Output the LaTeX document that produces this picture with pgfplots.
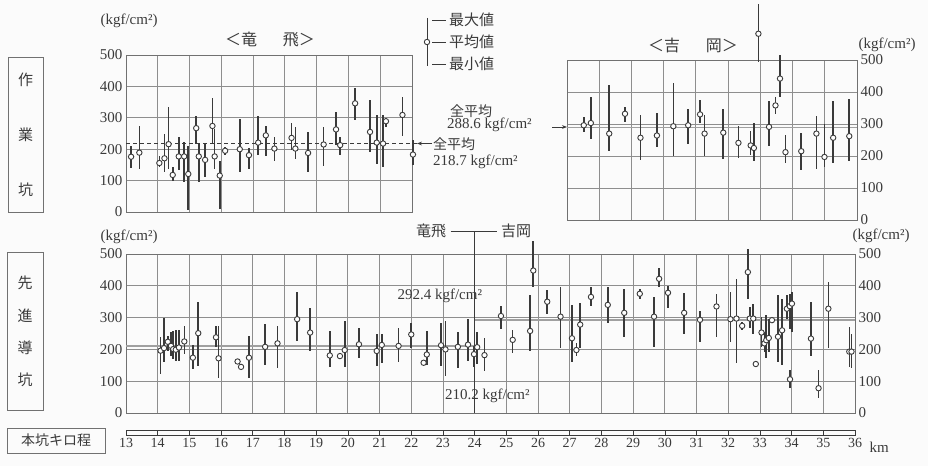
\documentclass[border=0pt]{standalone}
\usepackage{fontspec}
\setmainfont{Liberation Serif}
\newfontfamily\jp{Noto Sans CJK JP}
\usepackage{pgfplots}
\usepackage{pgfplotstable}
\pgfplotsset{compat=1.18}
\usetikzlibrary{arrows.meta}

\definecolor{ink}{HTML}{3A3A3A}
\definecolor{gridc}{HTML}{8E8E8E}
\definecolor{meanc}{HTML}{A0A0A0}

% km  mean  max  min   (kgf/cm2)
\pgfplotstableread{
km mean max min
13.16 176 210 139
13.42 189 274 137
14.05 156 178 142
14.21 171 247 126
14.34 216 335 137
14.47 118 142 100
14.66 177 240 135
14.83 177 223 97
14.96 121 210 5
15.21 267 305 216
15.29 177 216 95
15.49 166 216 111
15.72 274 363 216
15.79 177 263 137
15.95 116 163 10
16.12 195 208 181
16.58 200 297 128
16.87 181 205 137
17.16 221 305 181
17.40 244 274 177
17.67 202 239 162
18.21 236 282 197
18.33 202 271 170
18.73 188 255 126
19.22 215 271 147
19.61 263 319 213
19.74 213 239 181
20.21 346 394 293
20.68 255 356 191
20.89 221 309 154
21.09 218 309 144
21.18 289 300 270
21.70 309 367 243
22.03 183 229 149
}\tatsuA

\pgfplotstableread{
km mean max min
27.52 296 322 275
27.74 303 385 254
28.31 270 421 217
28.80 332 353 306
29.28 257 327 186
29.79 264 334 228
30.30 293 428 199
30.76 296 348 236
31.13 330 376 303
31.27 270 327 199
31.85 273 346 191
32.32 241 294 194
32.70 233 278 204
32.80 225 304 183
32.94 582 676 493
33.27 291 372 231
33.47 358 383 330
33.61 442 517 383
33.78 212 267 178
34.27 215 273 157
34.74 270 325 159
34.99 197 300 165
35.26 257 372 178
35.76 262 377 183
}\yoshiA

\pgfplotstableread{
km mean max min
14.09 196 238 124
14.20 204 299 159
14.32 224 243 196
14.42 211 254 180
14.49 201 259 169
14.57 199 261 164
14.67 206 261 164
14.84 225 275 185
15.11 174 215 137
15.28 251 349 148
15.84 238 275 206
15.92 172 275 109
16.52 162 170 155
16.63 145 152 138
16.88 174 243 111
17.39 208 280 151
17.78 219 275 143
18.40 295 381 226
18.81 253 329 195
19.43 181 258 145
19.75 179 189 170
19.90 198 289 145
20.35 216 268 174
20.91 195 247 149
21.07 214 247 158
21.60 211 268 160
22.00 247 284 205
22.39 158 165 150
22.49 184 258 152
22.94 213 284 147
23.08 200 289 116
23.47 208 255 142
23.79 215 295 165
23.98 185 210 145
24.08 207 255 155
24.31 182 235 132
24.83 305 335 265
25.20 230 262 190
25.75 258 370 195
25.85 448 540 395
26.29 350 388 312
26.71 303 395 205
27.07 235 340 160
27.21 198 220 180
27.33 278 345 205
27.67 365 395 335
28.20 340 395 282
28.72 315 390 240
29.21 375 390 360
29.66 303 365 208
29.82 422 455 395
30.10 378 400 330
30.61 315 378 250
31.11 293 320 222
31.63 335 375 240
32.07 295 380 223
32.26 297 420 156
32.44 274 287 260
32.62 443 515 359
32.68 297 333 266
32.79 297 343 250
32.87 154 160 148
33.05 253 302 208
33.14 219 255 193
33.20 229 307 172
33.28 236 297 193
33.38 292 297 287
33.57 240 370 161
33.70 260 359 150
33.85 328 370 297
33.94 336 374 265
34.01 344 380 255
33.95 106 135 78
34.61 234 349 180
34.85 78 135 47
35.16 328 412 203
35.82 193 271 145
35.89 193 250 140
}\doukou

\pgfplotsset{
  panel/.style={
    scale only axis, anchor=south west,
    ymin=0, ymax=500, ytick={0,100,...,500},
    xtick distance=1, xticklabels={},
    grid=major, major grid style={gridc, line width=0.8pt},
    axis line style={gridc!80!black, line width=0.9pt},
    major tick length=0pt,
    tick label style={font=\fontsize{15}{17}\selectfont, text=ink},
    /pgf/number format/assume math mode=true,
    clip=false,
  },
}

\newcommand{\bars}[1]{%
  \addplot[draw=none, mark=none, forget plot,
    error bars/.cd, y dir=both, y explicit, error mark=none,
    error bar style={draw=ink, line width=1.6pt}]
    table[x=km, y=mean,
      y error plus expr=\thisrow{max}-\thisrow{mean},
      y error minus expr=\thisrow{mean}-\thisrow{min}] {#1};
  \addplot[only marks, mark=*, mark size=2.7pt,
    mark options={fill=white, draw=ink, line width=0.9pt}]
    table[x=km, y=mean] {#1};
}

\begin{document}
\begin{tikzpicture}[x=1pt, y=1pt, font=\fontsize{15}{17}\selectfont, text=ink]
\path[use as bounding box, fill=gray!3] (0,0) rectangle (928,466);

% --- work tunnel, Tappi side
\begin{axis}[panel, at={(126pt,254pt)}, width=286pt, height=157pt, xmin=13, xmax=22]
  \addplot[ink, line width=0.9pt, dash pattern=on 4pt off 3pt] coordinates {(13,218.7) (22.3,218.7)};
  \bars{\tatsuA}
\end{axis}

% --- work tunnel, Yoshioka side
\begin{axis}[panel, at={(567pt,246pt)}, width=290pt, height=160pt, xmin=27, xmax=36,
  yticklabel pos=right]
  \addplot[meanc, line width=1.6pt] coordinates {(27,288.6) (36,288.6)};
  \bars{\yoshiA}
\end{axis}

% --- pilot tunnel
\begin{axis}[panel, at={(126pt,53pt)}, width=729pt, height=159pt, xmin=13, xmax=36]
  \addplot[meanc, line width=1.6pt] coordinates {(13,210.2) (24,210.2)};
  \addplot[meanc, line width=1.6pt] coordinates {(24,292.4) (36,292.4)};
  \draw[ink, line width=0.8pt] (axis cs:24,0) -- (axis cs:24,500) -- ++(0pt,23pt) coordinate (div);
  \draw[ink, line width=0.8pt] ([xshift=-24pt]div) -- ([xshift=22pt]div);
  \node[anchor=east, font=\jp\fontsize{15}{17}\selectfont] at ([xshift=-25pt]div) {竜飛};
  \node[anchor=west, font=\jp\fontsize{15}{17}\selectfont] at ([xshift=23pt]div) {吉岡};
  \bars{\doukou}
  \node at (axis cs:22.9,368) {292.4 kgf/cm²};
  \node at (axis cs:24.4,55) {210.2 kgf/cm²};
\end{axis}
\begin{axis}[panel, at={(126pt,53pt)}, width=729pt, height=159pt, xmin=13, xmax=36,
  yticklabel pos=right, grid=none, axis line style={draw=none}]
\end{axis}

% --- km scale bar
\begin{axis}[scale only axis, anchor=south west, at={(126pt,31pt)}, width=729pt, height=5pt,
  xmin=13, xmax=36, ymin=0, ymax=1, ytick=\empty, xtick distance=1,
  axis line style={ink, line width=0.7pt},
  major tick length=3pt, tick style={ink, line width=0.6pt},
  xticklabel style={font=\fontsize{14}{16}\selectfont, text=ink},
  /pgf/number format/assume math mode=true]
  \addplot[draw=none] coordinates {(13,0.5) (36,0.5)};
\end{axis}
\node[anchor=west] at (866,19) {km};

% --- units and titles
\node at (129,445) {(kgf/cm²)};
\node at (129,229) {(kgf/cm²)};
\node[anchor=west] at (855,421) {(kgf/cm²)};
\node[anchor=west] at (849,230) {(kgf/cm²)};
\node[font=\jp\fontsize{16}{18}\selectfont] at (270,426) {＜竜\hspace{1.6em}飛＞};
\node[font=\jp\fontsize{16}{18}\selectfont] at (693,421) {＜吉\hspace{1.6em}岡＞};

% --- legend
\draw[ink, line width=0.9pt] (427,448) -- (427,400);
\draw[ink, line width=0.9pt, fill=white] (427,424) circle (2.7pt);
\foreach \yy/\tt in {446/最大値, 424/平均値, 402/最小値}{
  \draw[ink, line width=0.8pt] (432,\yy) -- (446,\yy);
  \node[anchor=west, font=\jp\fontsize{15}{17}\selectfont, inner sep=1pt] at (448,\yy) {\tt};
}

% --- overall means, work tunnel
\node[anchor=west, font=\jp\fontsize{14}{16}\selectfont, inner sep=0pt] at (450,355) {全平均};
\node[anchor=west, inner sep=0pt] at (447,341) {288.6 kgf/cm²};
\draw[ink, line width=0.8pt, -{Stealth[length=5pt]}] (552,339) -- (567,339);
\draw[ink, line width=0.8pt, -{Stealth[length=5pt]}] (432,322.5) -- (417,322.5);
\node[anchor=west, font=\jp\fontsize{14}{16}\selectfont, inner sep=0pt] at (433,322) {全平均};
\node[anchor=west, inner sep=0pt] at (433,304) {218.7 kgf/cm²};

% --- side boxes
\draw[gridc!80!black, line width=0.8pt] (8,254) rectangle (43,409);
\foreach \yy/\tt in {386/作, 331/業, 276/坑}
  \node[font=\jp\fontsize{15}{17}\selectfont] at (25.5,\yy) {\tt};
\draw[gridc!80!black, line width=0.8pt] (7,56) rectangle (43,214);
\foreach \yy/\tt in {183/先, 150/進, 118/導, 86/坑}
  \node[font=\jp\fontsize{15}{17}\selectfont] at (25,\yy) {\tt};
\draw[gridc!80!black, line width=0.8pt] (7,13) rectangle (105,38);
\node[font=\jp\fontsize{14}{16}\selectfont] at (56,25.5) {本坑キロ程};
\end{tikzpicture}
\end{document}
